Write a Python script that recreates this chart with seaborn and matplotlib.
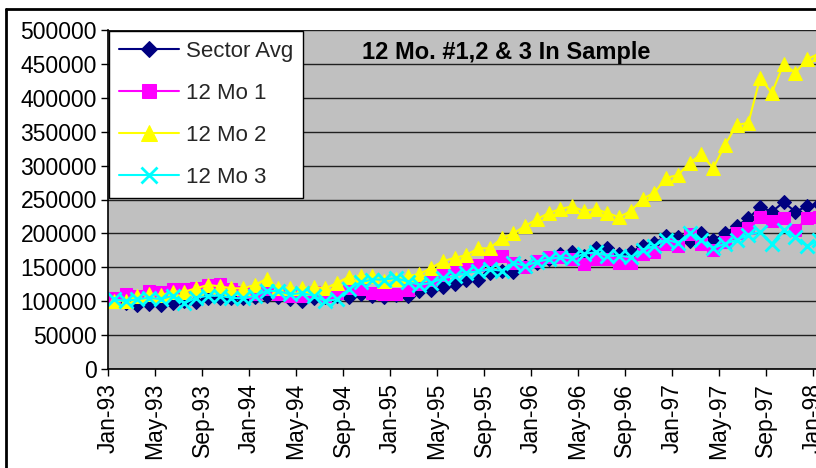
import numpy as np
import pandas as pd
import matplotlib
matplotlib.use("Agg")
import matplotlib.pyplot as plt
from matplotlib.lines import Line2D
import seaborn as sns

# monthly values, Jan-93 .. Jan-98
sector_avg = [100, 98, 95, 96, 95, 98, 100, 99, 105, 105, 104, 105,
              106, 108, 106, 103, 101, 104, 106, 108, 106, 110, 108, 106,
              109, 107, 115, 117, 121, 125, 132, 132, 141, 145, 143, 152,
              156, 162, 170, 173, 167, 178, 178, 170, 172, 182, 186, 196,
              194, 189, 201, 190, 200, 211, 222, 239, 232, 246, 232, 240, 244]
mo_1 = [105, 110, 108, 115, 113, 118, 118, 120, 124, 125, 118, 113,
        110, 118, 110, 108, 108, 113, 108, 112, 120, 118, 112, 110,
        110, 117, 125, 132, 139, 149, 152, 154, 162, 167, 157, 150,
        160, 165, 165, 162, 155, 162, 162, 157, 157, 169, 172, 184,
        182, 199, 184, 175, 188, 200, 208, 224, 219, 222, 205, 222, 224]
mo_2 = [100, 101, 108, 111, 109, 114, 114, 119, 124, 122, 119, 119,
        124, 133, 119, 119, 119, 121, 119, 127, 136, 137, 137, 130,
        133, 137, 140, 149, 159, 164, 168, 178, 178, 193, 200, 211,
        221, 230, 236, 240, 233, 236, 230, 224, 233, 251, 260, 282,
        286, 304, 317, 296, 330, 360, 363, 429, 407, 450, 437, 457, 465]
mo_3 = [103, 100, 103, 105, 103, 108, 97, 105, 108, 108, 105, 104,
        108, 115, 115, 110, 112, 108, 100, 103, 118, 128, 132, 132,
        134, 129, 124, 127, 134, 137, 142, 144, 147, 145, 157, 152,
        158, 162, 165, 163, 170, 172, 167, 167, 165, 175, 182, 191,
        186, 200, 190, 178, 185, 190, 198, 202, 185, 205, 195, 181, 190]

tick_labels = ["Jan-93", "May-93", "Sep-93", "Jan-94", "May-94", "Sep-94",
               "Jan-95", "May-95", "Sep-95", "Jan-96", "May-96", "Sep-96",
               "Jan-97", "May-97", "Sep-97", "Jan-98"]

series = {"Sector Avg": sector_avg, "12 Mo 1": mo_1,
          "12 Mo 2": mo_2, "12 Mo 3": mo_3}

sns.set_theme(style="white")
plt.rcParams["font.family"] = ["Liberation Sans", "DejaVu Sans"]

fig = plt.figure(figsize=(8.16, 4.68), dpi=100)
ax = fig.add_axes([108 / 816, 1 - 369 / 468, 722.6 / 816, 339 / 468])
ax.set_facecolor("#C0C0C0")

months = np.arange(len(sector_avg))
styles = {
    "Sector Avg": dict(color="#000080", marker="D", markersize=7),
    "12 Mo 1": dict(color="#FF00FF", marker="s", markersize=9),
    "12 Mo 2": dict(color="#FFFF00", marker="^", markersize=10),
    "12 Mo 3": dict(color="#00FFFF", marker="x", markersize=10, markeredgewidth=2),
}
for name, vals in series.items():
    sns.lineplot(x=months, y=np.array(vals) * 1000, ax=ax, label=name,
                 linewidth=1.5, markeredgecolor=styles[name]["color"],
                 **styles[name])

ax.set_xlim(-0.5, 61)
ax.set_ylim(0, 500000)
ax.set_yticks(np.arange(0, 500001, 50000))
ax.set_yticklabels([str(v) for v in range(0, 500001, 50000)])
ax.set_xticks(np.arange(len(tick_labels)) * 4 - 0.5)
ax.set_xticklabels(tick_labels, rotation=90)
ax.yaxis.grid(True, color="#202020", linewidth=1)
ax.set_axisbelow(True)
ax.tick_params(axis="both", direction="out", length=5, width=1, color="black",
               labelsize=16.5, labelcolor="black", pad=3)
ax.tick_params(axis="x", pad=5)
ax.xaxis.set_ticks_position("bottom")
ax.yaxis.set_ticks_position("left")
for side in ["top", "right"]:
    ax.spines[side].set_visible(False)
for side in ["left", "bottom"]:
    ax.spines[side].set_color("black")
    ax.spines[side].set_linewidth(1.2)
ax.set_xlabel("")
ax.set_ylabel("")

leg = ax.legend(loc="upper left", bbox_to_anchor=(0.002, 0.998), fontsize=16,
                frameon=True, fancybox=False, framealpha=1, edgecolor="black",
                facecolor="white", handlelength=2.7, labelspacing=0.95,
                borderpad=0.45, handletextpad=0.3, borderaxespad=0,
                markerscale=1.15)
leg.get_frame().set_linewidth(1)

fig.text(362 / 816, 1 - 52 / 468, "12 Mo. #1,2 & 3 In Sample", fontsize=17,
         fontweight="bold", ha="left", va="center", color="black")

# outer chart border
fig.add_artist(Line2D([6 / 816, 1.0], [1 - 9 / 468, 1 - 9 / 468],
                      color="black", linewidth=2, transform=fig.transFigure))
fig.add_artist(Line2D([6 / 816, 6 / 816], [0, 1 - 9 / 468],
                      color="black", linewidth=2, transform=fig.transFigure))

fig.savefig("out.png", dpi=100)
